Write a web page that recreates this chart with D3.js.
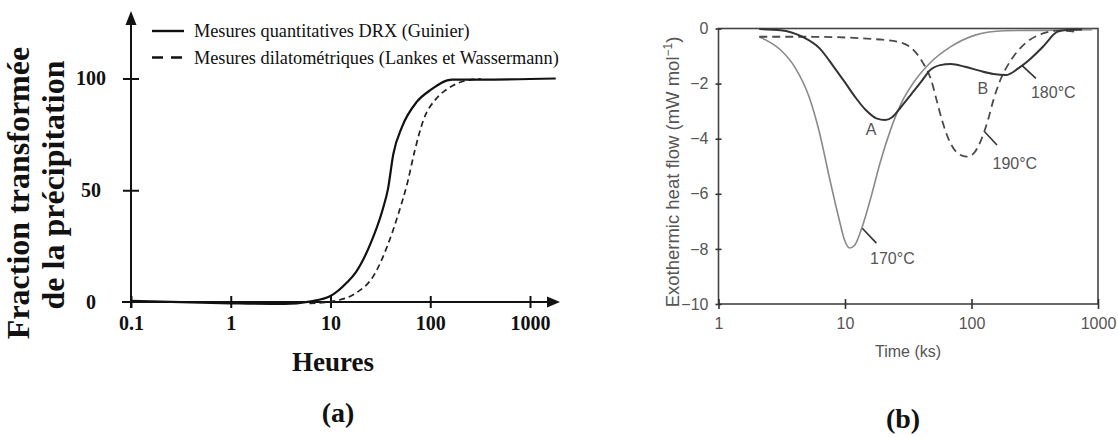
<!DOCTYPE html>
<html>
<head>
<meta charset="utf-8">
<script src="https://cdn.jsdelivr.net/npm/d3@7"></script>
<style>
  body { margin: 0; background: #fff; }
  svg { display: block; }
</style>
</head>
<body>
<svg id="chart" width="1118" height="438"></svg>
<script>
// ---- panel (a) data ----
const hoursTicks = [0.1, 1, 10, 100, 1000];
const fractionTicks = [0, 50, 100];
const drxHours = [0.1, 1, 3.45, 6.15, 10.1, 14.6, 18, 25, 33.3, 37.7, 42.6, 52.4, 72.8, 101, 166, 321, 1811];
const drxFraction = [0.5, -0.6, -0.9, 0.2, 2.8, 8.7, 13.4, 25.8, 41.3, 50.6, 66.1, 78.6, 89.4, 94.9, 99.5, 99.5, 100];
const dilHours = [6.15, 10.1, 18, 27.1, 37.7, 48.2, 59.3, 69.9, 85.9, 115, 153, 231, 321];
const dilFraction = [-0.6, 0.2, 4.0, 11.8, 25.8, 39.8, 53.7, 67.7, 81.7, 91, 95.7, 99.1, 99.8];
const legendLabels = ["Mesures quantitatives DRX (Guinier)", "Mesures dilatométriques (Lankes et Wassermann)"];

// ---- panel (b) data ----
const timeTicks = [1, 10, 100, 1000];
const flowTicks = [0, -2, -4, -6, -8, -10];
const t170 = [2.1, 3.1, 4.0, 5.2, 6.3, 7.6, 9.0, 9.9, 10.9, 12.0, 13.7, 16.1, 18.9, 22.9, 27.8, 36, 46.6, 68.6, 107, 181, 475, 900];
const q170 = [-0.30, -0.78, -1.39, -2.48, -3.80, -5.50, -6.94, -7.67, -7.97, -7.85, -7.19, -6.10, -4.89, -3.68, -2.72, -1.87, -1.27, -0.66, -0.24, -0.08, -0.06, -0.04];
const t180 = [2.1, 3.1, 4.6, 6.3, 8.15, 9.9, 12.0, 14.6, 17.7, 20.8, 23.6, 27.8, 33.7, 40.9, 46.6, 56.5, 68.6, 88.8, 115, 149, 187, 234, 284, 367, 475, 541, 748];
const q180 = [-0.02, -0.06, -0.30, -0.72, -1.39, -1.93, -2.48, -2.96, -3.26, -3.32, -3.22, -2.84, -2.36, -1.87, -1.53, -1.33, -1.29, -1.39, -1.53, -1.65, -1.69, -1.45, -1.15, -0.66, -0.12, -0.06, -0.04];
const t190 = [2.1, 5.2, 18.9, 26, 33.7, 40.9, 48, 53, 58.4, 66.4, 78, 91.6, 104, 119, 135, 149, 169, 205, 266, 367, 475, 700];
const q190 = [-0.30, -0.30, -0.40, -0.48, -0.72, -1.21, -1.87, -2.60, -3.32, -4.05, -4.53, -4.65, -4.53, -4.05, -3.32, -2.60, -1.87, -1.15, -0.54, -0.18, -0.08, -0.12];
const labelText = ["A", "B", "180°C", "190°C", "170°C"];
const labelTime = [16.1, 123, 443, 220, 23.7];
const labelFlow = [-3.68, -2.17, -2.33, -4.89, -8.33];
const leaderTime = [[249, 323], [127, 159], [13.7, 17.7]];
const leaderFlow = [[-1.33, -1.81], [-3.75, -4.23], [-7.25, -7.79]];

const svg = d3.select("#chart");

function zip(xs, ys) { return xs.map((x, i) => [x, ys[i]]); }

// ================= panel (a) =================
const xA = d3.scaleLog().domain([0.1, 1000]).range([131, 530]);
const yA = d3.scaleLinear().domain([0, 100]).range([302, 78.5]);
const gA = svg.append("g");
const serif = "'Liberation Serif', 'Times New Roman', serif";

// axes lines with arrows
gA.append("line").attr("x1", 122).attr("x2", 552).attr("y1", yA(0)).attr("y2", yA(0))
    .attr("stroke", "#111").attr("stroke-width", 2.2);
gA.append("path").attr("d", `M560,${yA(0)} L547,${yA(0) - 5.5} L547,${yA(0) + 5.5} Z`).attr("fill", "#111");
gA.append("line").attr("x1", xA(0.1)).attr("x2", xA(0.1)).attr("y1", 308).attr("y2", 20)
    .attr("stroke", "#111").attr("stroke-width", 2);
gA.append("path").attr("d", `M${xA(0.1)},11 L${xA(0.1) - 5.5},25 L${xA(0.1) + 5.5},25 Z`).attr("fill", "#111");

const axA = gA.append("g").attr("transform", `translate(0,${yA(0)})`)
    .call(d3.axisBottom(xA).tickValues(hoursTicks).tickFormat(d => d < 1 ? "0.1" : String(d)).tickSize(6));
axA.select(".domain").remove();
axA.selectAll(".tick line").attr("y1", -6).attr("y2", 6).attr("stroke", "#111").attr("stroke-width", 2);
axA.selectAll(".tick text").attr("y", 14).attr("dy", "0.71em")
    .style("font", `bold 20px ${serif}`).attr("fill", "#111");

const ayA = gA.append("g").attr("transform", `translate(${xA(0.1)},0)`)
    .call(d3.axisLeft(yA).tickValues(fractionTicks).tickSize(6));
ayA.select(".domain").remove();
ayA.selectAll(".tick line").attr("x1", -8).attr("x2", 8).attr("stroke", "#111").attr("stroke-width", 2)
    .filter(d => d === 0).remove();
ayA.selectAll(".tick text").attr("x", -40).attr("text-anchor", "middle").attr("dy", "0.32em")
    .style("font", `bold 20px ${serif}`).attr("fill", "#111");

const lineA = d3.line().x(d => xA(d[0])).y(d => yA(d[1])).curve(d3.curveMonotoneX);
gA.append("path").datum(zip(dilHours, dilFraction)).attr("d", lineA)
    .attr("fill", "none").attr("stroke", "#222").attr("stroke-width", 1.7).attr("stroke-dasharray", "6,4");
gA.append("path").datum(zip(drxHours, drxFraction)).attr("d", lineA)
    .attr("fill", "none").attr("stroke", "#111").attr("stroke-width", 2.2);

// legend
const leg = gA.append("g");
legendLabels.forEach((t, i) => {
    const y = 31 + i * 26.5;
    leg.append("line").attr("x1", 152).attr("x2", 184).attr("y1", y).attr("y2", y)
        .attr("stroke", "#111").attr("stroke-width", 2.4)
        .attr("stroke-dasharray", i === 0 ? null : "11,8");
    leg.append("text").attr("x", 194).attr("y", y).attr("dy", "0.35em")
        .style("font", `18.3px ${serif}`).attr("fill", "#111").text(t);
});

// axis titles
gA.append("text").attr("x", 333).attr("y", 362).attr("dy", "0.35em").attr("text-anchor", "middle")
    .style("font", `bold 27px ${serif}`).attr("fill", "#111").text("Heures");
const ytA = gA.append("text").attr("transform", "translate(18,193) rotate(-90)").attr("text-anchor", "middle")
    .style("font", `bold 32px ${serif}`).attr("fill", "#111");
ytA.append("tspan").attr("x", 0).attr("dy", "0.35em").text("Fraction transformée");
ytA.append("tspan").attr("x", 8).attr("dy", 35).text("de la précipitation");

gA.append("text").attr("x", 338).attr("y", 412).attr("dy", "0.35em").attr("text-anchor", "middle")
    .style("font", `bold 28px ${serif}`).attr("fill", "#111").text("(a)");

// ================= panel (b) =================
const xB = d3.scaleLog().domain([1, 1000]).range([718.5, 1098]);
const yB = d3.scaleLinear().domain([-10, 0]).range([304, 28.5]);
const gB = svg.append("g");
const sans = "'Liberation Sans', Arial, sans-serif";
const grey = "#555";

gB.append("rect").attr("x", xB(1)).attr("y", yB(0)).attr("width", xB(1000) - xB(1)).attr("height", yB(-10) - yB(0))
    .attr("fill", "none").attr("stroke", "#444").attr("stroke-width", 1.6);

const axB = gB.append("g").attr("transform", `translate(0,${yB(-10)})`)
    .call(d3.axisBottom(xB).tickValues(timeTicks).tickFormat(d3.format("d")).tickSize(5));
axB.select(".domain").remove();
axB.selectAll(".tick line").attr("y1", -5).attr("y2", 5).attr("stroke", "#333").attr("stroke-width", 1.6);
axB.selectAll(".tick text").attr("y", 14).attr("dy", "0.71em").style("font", `16px ${sans}`).attr("fill", grey);

const ayB = gB.append("g").attr("transform", `translate(${xB(1)},0)`)
    .call(d3.axisLeft(yB).tickValues(flowTicks).tickFormat(d3.format("d")).tickSize(3));
ayB.select(".domain").remove();
ayB.selectAll(".tick line").attr("x1", -3).attr("x2", 3).attr("stroke", "#333").attr("stroke-width", 1.6);
ayB.selectAll(".tick text").attr("x", -10).style("font", `16px ${sans}`).attr("fill", grey);

const lineB = d3.line().x(d => xB(d[0])).y(d => yB(d[1])).curve(d3.curveMonotoneX);
gB.append("path").datum(zip(t170, q170)).attr("d", lineB)
    .attr("fill", "none").attr("stroke", "#8a8a8a").attr("stroke-width", 1.6);
gB.append("path").datum(zip(t190, q190)).attr("d", lineB)
    .attr("fill", "none").attr("stroke", "#4a4a4a").attr("stroke-width", 1.8).attr("stroke-dasharray", "8,5");
gB.append("path").datum(zip(t180, q180)).attr("d", lineB)
    .attr("fill", "none").attr("stroke", "#333").attr("stroke-width", 2);

// annotations
leaderTime.forEach((ts, i) => {
    gB.append("line").attr("x1", xB(ts[0])).attr("x2", xB(ts[1]))
        .attr("y1", yB(leaderFlow[i][0])).attr("y2", yB(leaderFlow[i][1]))
        .attr("stroke", "#333").attr("stroke-width", 1.6);
});
labelText.forEach((t, i) => {
    gB.append("text").attr("x", xB(labelTime[i])).attr("y", yB(labelFlow[i])).attr("dy", "0.35em")
        .attr("text-anchor", "middle").style("font", `16px ${sans}`).attr("fill", grey).text(t);
});

gB.append("text").attr("x", 908).attr("y", 351).attr("dy", "0.35em").attr("text-anchor", "middle")
    .style("font", `16px ${sans}`).attr("fill", grey).text("Time (ks)");
const ytB = gB.append("text").attr("transform", "translate(673,172) rotate(-90)").attr("text-anchor", "middle")
    .attr("dy", "0.35em").style("font", `18.5px ${sans}`).attr("fill", grey);
ytB.append("tspan").text("Exothermic heat flow (mW mol");
ytB.append("tspan").attr("dy", -7).style("font-size", "12px").text("−1");
ytB.append("tspan").attr("dy", 7).text(")");

gB.append("text").attr("x", 903).attr("y", 418).attr("dy", "0.35em").attr("text-anchor", "middle")
    .style("font", `bold 28px ${serif}`).attr("fill", "#111").text("(b)");
</script>
</body>
</html>
